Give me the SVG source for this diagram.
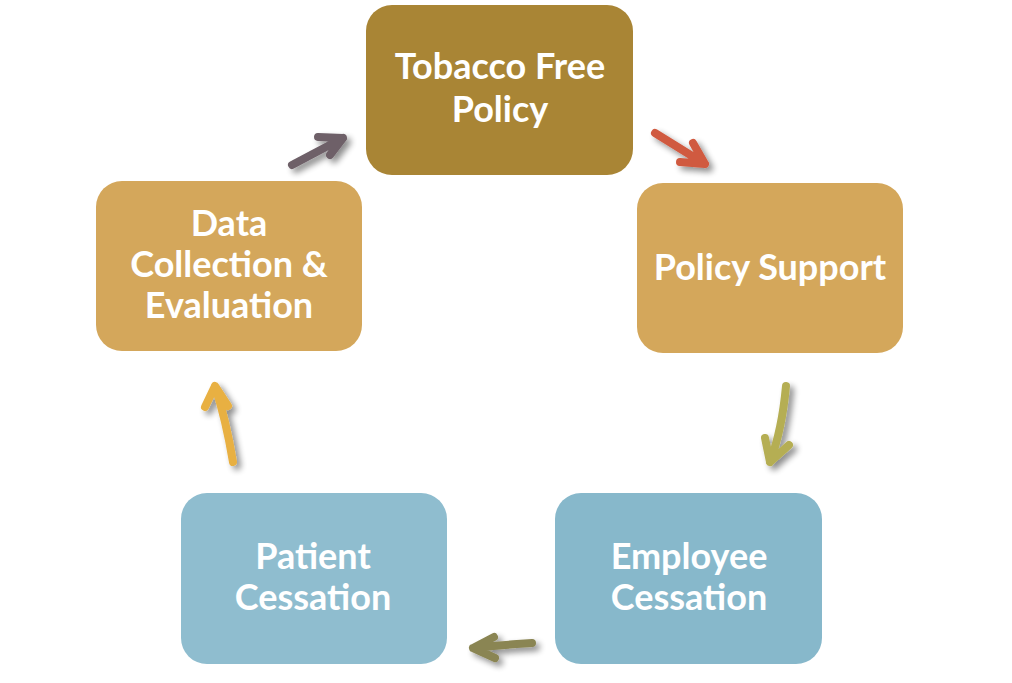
<svg xmlns="http://www.w3.org/2000/svg" width="1012" height="683" viewBox="0 0 1012 683">
<defs>
<style>
.lbl{font-family:"Lato","Open Sans","Liberation Sans",sans-serif;font-weight:700;font-size:36px;fill:#ffffff;text-anchor:middle}
.arr{fill:none;stroke-width:8;stroke-linecap:round;stroke-linejoin:round}
</style>
<filter id="sh" x="-50%" y="-50%" width="200%" height="200%">
<feGaussianBlur in="SourceAlpha" stdDeviation="3"/>
<feOffset dx="4" dy="4" result="b"/>
<feComponentTransfer><feFuncA type="linear" slope="0.45"/></feComponentTransfer>
<feMerge><feMergeNode/><feMergeNode in="SourceGraphic"/></feMerge>
</filter>
</defs>
<rect width="1012" height="683" fill="#ffffff"/>
<g id="node-tobacco">
<rect x="366" y="5" width="267" height="170" rx="26" fill="#A98535"/>
<text class="lbl" x="500" y="79">Tobacco Free</text>
<text class="lbl" x="500" y="122">Policy</text>
</g>
<g id="node-policy-support">
<rect x="637" y="183" width="266" height="170" rx="26" fill="#D4A75B"/>
<text class="lbl" x="770" y="280">Policy Support</text>
</g>
<g id="node-data">
<rect x="96" y="181" width="266" height="170" rx="26" fill="#D4A75B"/>
<text class="lbl" x="229" y="236">Data</text>
<text class="lbl" x="229" y="277">Collection &amp;</text>
<text class="lbl" x="229" y="318">Evaluation</text>
</g>
<g id="node-employee">
<rect x="555" y="493" width="267" height="171" rx="26" fill="#87B8CB"/>
<text class="lbl" x="689" y="569">Employee</text>
<text class="lbl" x="689" y="610">Cessation</text>
</g>
<g id="node-patient">
<rect x="181" y="493" width="266" height="171" rx="26" fill="#8FBDCF"/>
<text class="lbl" x="313" y="569">Patient</text>
<text class="lbl" x="313" y="610">Cessation</text>
</g>
<g id="connectors" filter="url(#sh)">
<path class="arr" stroke="#6E6068" d="M292 165 L343 138 M318 137 L343 138 L330 155"/>
<path class="arr" stroke="#D05A40" d="M655 133 L705 164 M680 162 L705 164 L693 143"/>
<path class="arr" stroke="#B5AE52" d="M786 386 Q782 430 770 462 M765 438 L770 462 L789 445"/>
<path class="arr" stroke="#8A8552" d="M532 643 Q500 645 473 648 M494 637 L473 648 L495 658"/>
<path class="arr" stroke="#E8B043" d="M233 462 Q226 420 215 386 M205 407 L215 386 L228 406"/>
</g>
</svg>
